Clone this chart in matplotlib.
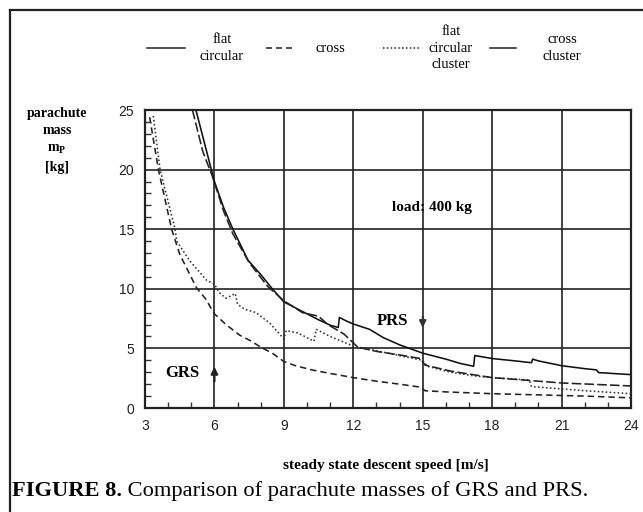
import matplotlib
matplotlib.use('Agg')
import matplotlib.pyplot as plt
from matplotlib.lines import Line2D
from matplotlib.ticker import MultipleLocator

# flat circular (solid)
flat_x = [5.2, 5.6, 6.0, 6.4, 6.8, 7.45, 8.0, 8.5, 9.0, 9.5, 10.0, 10.5, 11.0, 11.35, 11.4, 11.7,
          12.0, 12.7, 13.3, 14.0, 15.0, 16.0, 16.6, 17.2, 17.25, 18.0, 19.0, 19.7, 19.75, 20.0,
          21.0, 22.0, 22.5, 22.6, 24.0]
flat_y = [25.0, 22.0, 19.0, 16.8, 15.0, 12.4, 11.2, 10.0, 8.9, 8.4, 7.9, 7.4, 6.95, 6.75, 7.6, 7.3,
          7.05, 6.6, 5.9, 5.3, 4.6, 4.1, 3.75, 3.5, 4.4, 4.15, 3.95, 3.8, 4.1, 3.95,
          3.55, 3.3, 3.2, 2.97, 2.8]

# cross (dashed)
cross_x = [3.2, 3.58, 4.15, 4.5, 5.22, 5.6, 6.0, 6.5, 7.1, 7.6, 8.0, 8.5, 9.0, 9.5, 10.2, 11.0,
           12.0, 13.0, 14.0, 14.9, 15.1, 16.0, 18.0, 20.0, 22.0, 24.0]
cross_y = [24.4, 20.0, 15.0, 12.9, 10.1, 9.2, 7.9, 7.0, 6.1, 5.6, 5.1, 4.6, 3.9, 3.55, 3.2, 2.9,
           2.55, 2.25, 2.0, 1.75, 1.45, 1.35, 1.2, 1.1, 1.0, 0.85]

# flat circular cluster (dotted)
fcc_x = [3.36, 3.65, 4.3, 4.37, 4.93, 5.67, 6.0, 6.2, 6.5, 6.9, 7.0, 7.3, 7.8, 8.4, 9.0, 9.1, 9.6,
         10.3, 10.4, 11.0, 12.0, 13.0, 14.0, 15.0, 15.2, 16.2, 17.2, 18.0, 19.6, 19.7, 21.0, 22.0, 24.0]
fcc_y = [24.5, 20.0, 15.0, 14.0, 12.35, 10.7, 10.4, 9.7, 9.2, 9.6, 8.7, 8.3, 8.0, 7.1, 5.8, 6.5, 6.3,
         5.6, 6.6, 6.0, 5.2, 4.8, 4.4, 4.0, 3.5, 3.0, 2.7, 2.55, 2.35, 1.8, 1.6, 1.45, 1.2]

# cross cluster (long dash)
cc_x = [5.05, 5.5, 5.9, 6.4, 6.8, 7.5, 8.3, 9.0, 9.8, 10.5, 10.9, 11.6, 12.2, 13.0, 14.0, 14.9,
        15.1, 16.2, 17.0, 18.0, 21.0, 24.0]
cc_y = [25.0, 21.5, 19.5, 16.5, 14.6, 12.2, 10.2, 9.0, 8.0, 7.7, 7.0, 6.2, 5.1, 4.75, 4.45, 4.15,
        3.6, 3.1, 2.85, 2.55, 2.1, 1.85]

x_ticks = [3, 6, 9, 12, 15, 18, 21, 24]
y_ticks = [0, 5, 10, 15, 20, 25]

serif = 'Liberation Serif'
sans = 'Liberation Sans'
W, H = 643, 512


def fx(px):
    return px / W


def fy(py):
    return 1 - py / H


fig = plt.figure(figsize=(6.43, 5.12), dpi=100)
ax = fig.add_axes([fx(145), fy(408), fx(631) - fx(145), fy(110) - fy(408)])

lw = 1.15
ax.plot(flat_x, flat_y, color='#111111', lw=lw, linestyle='-')
ax.plot(cross_x, cross_y, color='#222222', lw=lw, linestyle=(0, (4, 2.5)))
ax.plot(fcc_x, fcc_y, color='#333333', lw=lw, linestyle=(0, (1, 1.5)))
ax.plot(cc_x, cc_y, color='#222222', lw=lw, linestyle=(0, (6, 2)))

ax.set_xlim(3, 24)
ax.set_ylim(0, 25)
ax.set_xticks(x_ticks)
ax.set_yticks(y_ticks)
ax.xaxis.set_minor_locator(MultipleLocator(1))
ax.yaxis.set_minor_locator(MultipleLocator(1))
ax.tick_params(which='major', length=0, pad=8, labelsize=10, labelfontfamily=sans, colors='#222222')
ax.tick_params(which='minor', direction='in', length=4, width=1, color='#333333')
ax.grid(which='major', color='#222222', lw=1.2)
for s in ax.spines.values():
    s.set_linewidth(1.6)
    s.set_color('#222222')

# annotations
ax.text(15.4, 16.8, 'load: 400 kg', family=serif, fontsize=11, fontweight='bold', ha='center', va='center')
ax.text(13.7, 7.3, 'PRS', family=serif, fontsize=12, fontweight='bold', ha='center', va='center')
ax.annotate('', xy=(15, 6.5), xytext=(15, 7.9),
            arrowprops=dict(arrowstyle='-|>', color='#333333', lw=1.4, mutation_scale=10))
ax.text(4.6, 2.9, 'GRS', family=serif, fontsize=12, fontweight='bold', ha='center', va='center')
ax.annotate('', xy=(6, 3.7), xytext=(6, 2.0),
            arrowprops=dict(arrowstyle='-|>', color='#222222', lw=1.6, mutation_scale=10))

# y label block
for txt, py in [('parachute', 113), ('mass', 131), ('m$_\\mathregular{P}$', 149), ('[kg]', 168)]:
    fig.text(fx(57), fy(py), txt, family=serif, fontsize=10, fontweight='bold', ha='center', va='center')

fig.text(fx(386), fy(466), 'steady state descent speed [m/s]', family=serif, fontsize=11,
         fontweight='bold', ha='center', va='center')

# legend drawn by hand across the top
leg_y = 48
items = [
    ('-', (147, 185), 'flat\ncircular', 222),
    ((0, (4, 2.5)), (266, 295), 'cross', 330),
    ((0, (1, 1.5)), (383, 420), 'flat\ncircular\ncluster', 451),
    ('-', (490, 516), 'cross\ncluster', 562),
]
for ls, (x0, x1), label, tx in items:
    fig.add_artist(Line2D([fx(x0), fx(x1)], [fy(leg_y), fy(leg_y)], transform=fig.transFigure,
                          color='#222222', lw=1.1, linestyle=ls))
    fig.text(fx(tx), fy(leg_y), label, family=serif, fontsize=10.5, ha='center', va='center',
             linespacing=1.35)

# caption
t1 = fig.text(fx(12), fy(501), 'FIGURE 8.', family=serif, fontsize=16.2, fontweight='bold',
              ha='left', va='bottom')
ax.annotate(' Comparison of parachute masses of GRS and PRS.', xy=(1, 0), xycoords=t1,
            family=serif, fontsize=16.2, ha='left', va='bottom', annotation_clip=False)

# outer frame (top and left)
fig.add_artist(Line2D([fx(10), fx(10)], [fy(10), 0], transform=fig.transFigure, color='#222222', lw=1.6))
fig.add_artist(Line2D([fx(10), 1], [fy(10), fy(10)], transform=fig.transFigure, color='#222222', lw=1.6))

fig.savefig('out.png', dpi=100)
